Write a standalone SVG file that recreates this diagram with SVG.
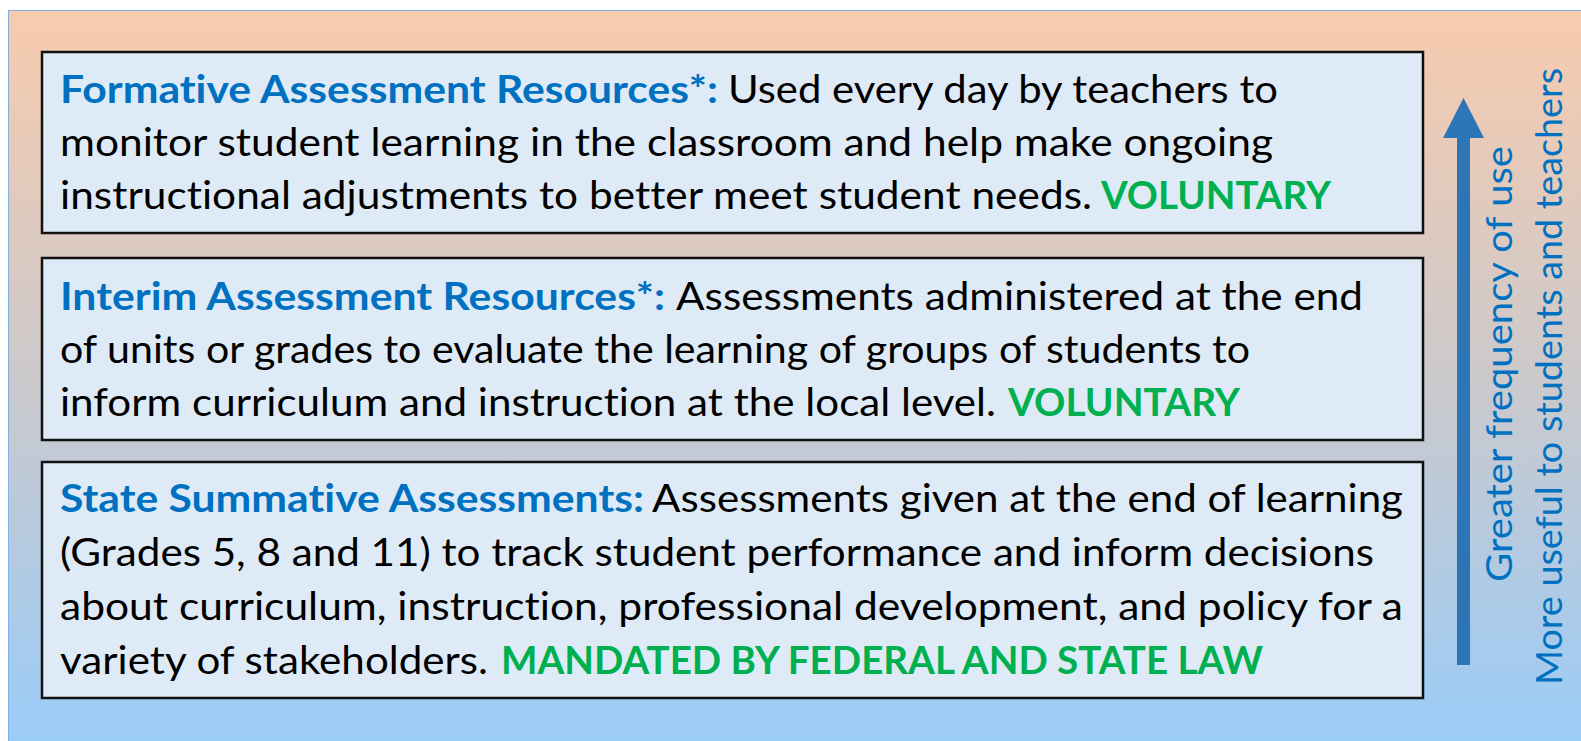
<svg xmlns="http://www.w3.org/2000/svg" width="1581" height="741" viewBox="0 0 1581 741">
<defs>
<linearGradient id="bg" x1="0" y1="0" x2="0" y2="1">
<stop offset="0" stop-color="#F8CBAD"/>
<stop offset="0.5" stop-color="#CBC9CC"/>
<stop offset="1" stop-color="#99CCF9"/>
</linearGradient>
<style>
.box{fill:#DEEBF7;stroke:#111;stroke-width:2.5}
.t{font-family:Lato,"Open Sans","Liberation Sans",sans-serif;font-size:39px;fill:#000;font-variant-ligatures:none}
.h{fill:#0070C0;font-weight:bold}
.g{fill:#00B050;font-weight:bold}
.v{font-family:Lato,"Open Sans","Liberation Sans",sans-serif;font-size:37px;fill:#0070C0;font-variant-ligatures:none}
</style>
</defs>
<rect x="0" y="0" width="1581" height="741" fill="#fff"/>
<rect x="8.5" y="10.5" width="1580" height="740" fill="url(#bg)" stroke="#7FB2E3" stroke-width="1"/>
<g id="formative">
<rect class="box" x="42" y="52" width="1381" height="181"/>
<text class="t h" x="60" y="103" textLength="658" lengthAdjust="spacingAndGlyphs">Formative Assessment Resources*:</text>
<text class="t" x="728" y="103" textLength="550" lengthAdjust="spacingAndGlyphs">Used every day by teachers to</text>
<text class="t" x="60" y="156" textLength="1213" lengthAdjust="spacingAndGlyphs">monitor student learning in the classroom and help make ongoing</text>
<text class="t" x="60" y="209" textLength="1032" lengthAdjust="spacingAndGlyphs">instructional adjustments to better meet student needs.</text>
<text class="t g" x="1101" y="209" textLength="230" lengthAdjust="spacingAndGlyphs">VOLUNTARY</text>
</g>
<g id="interim">
<rect class="box" x="42" y="258" width="1381" height="182"/>
<text class="t h" x="60" y="310" textLength="605" lengthAdjust="spacingAndGlyphs">Interim Assessment Resources*:</text>
<text class="t" x="676" y="310" textLength="687" lengthAdjust="spacingAndGlyphs">Assessments administered at the end</text>
<text class="t" x="60" y="363" textLength="1190" lengthAdjust="spacingAndGlyphs">of units or grades to evaluate the learning of groups of students to</text>
<text class="t" x="60" y="416" textLength="936" lengthAdjust="spacingAndGlyphs">inform curriculum and instruction at the local level.</text>
<text class="t g" x="1008" y="416" textLength="232" lengthAdjust="spacingAndGlyphs">VOLUNTARY</text>
</g>
<g id="summative">
<rect class="box" x="42" y="462" width="1381" height="236"/>
<text class="t h" x="60" y="512" textLength="584" lengthAdjust="spacingAndGlyphs">State Summative Assessments:</text>
<text class="t" x="652" y="512" textLength="751" lengthAdjust="spacingAndGlyphs">Assessments given at the end of learning</text>
<text class="t" x="60" y="566" textLength="1314" lengthAdjust="spacingAndGlyphs">(Grades 5, 8 and 11) to track student performance and inform decisions</text>
<text class="t" x="60" y="620" textLength="1343" lengthAdjust="spacingAndGlyphs">about curriculum, instruction, professional development, and policy for a</text>
<text class="t" x="60" y="674" textLength="428" lengthAdjust="spacingAndGlyphs">variety of stakeholders.</text>
<text class="t g" x="501" y="674" textLength="762" lengthAdjust="spacingAndGlyphs">MANDATED BY FEDERAL AND STATE LAW</text>
</g>
<g id="connectors">
<path d="M1457,665 L1457,138 L1443,138 L1463.5,98 L1484,138 L1470,138 L1470,665 Z" fill="#2E75B6"/>
</g>
<g id="side-labels">
<text class="v" transform="translate(1512,582) rotate(-90)" textLength="436" lengthAdjust="spacingAndGlyphs">Greater frequency of use</text>
<text class="v" transform="translate(1562,685) rotate(-90)" textLength="617" lengthAdjust="spacingAndGlyphs">More useful to students and teachers</text>
</g>
</svg>
